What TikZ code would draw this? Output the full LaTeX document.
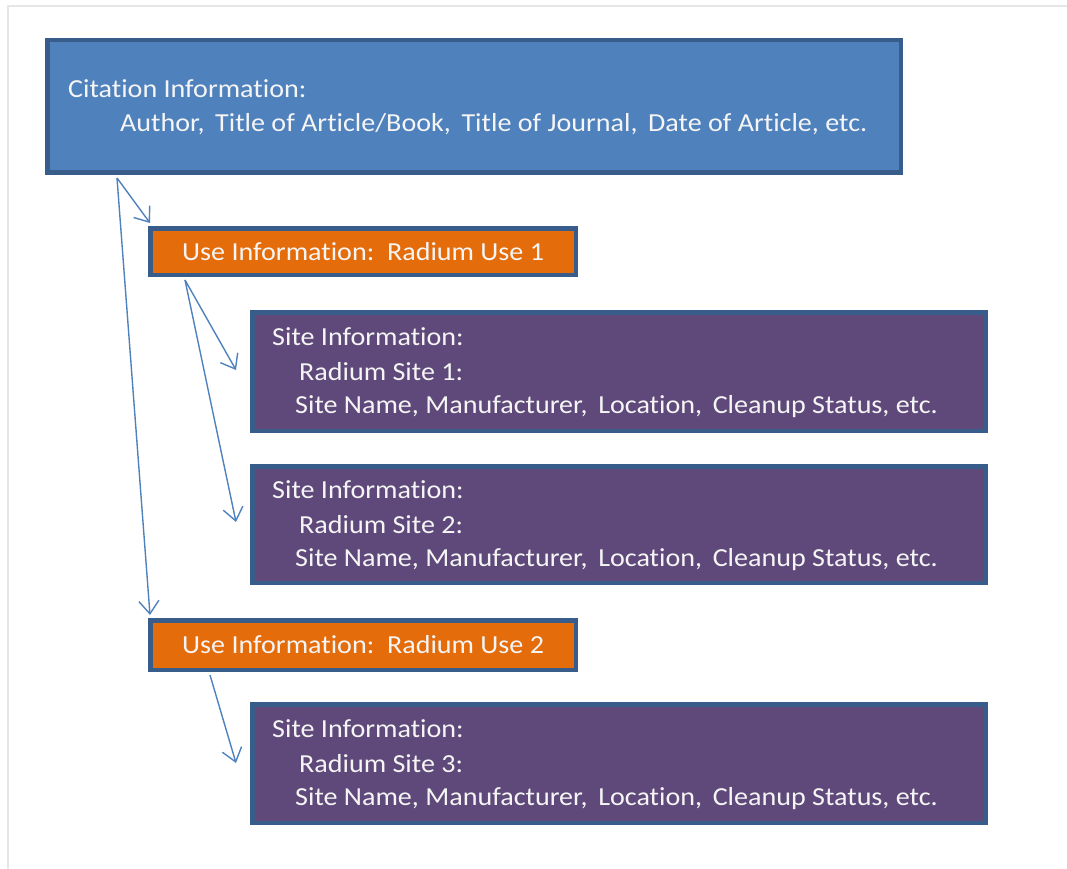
\documentclass[tikz,border=0pt]{standalone}
\usepackage{fontspec}
\setmainfont{Carlito}[Ligatures={NoCommon}, FakeStretch=1.08]
\usetikzlibrary{arrows.meta}
\definecolor{citfill}{HTML}{4F81BD}
\definecolor{boxline}{HTML}{385D8A}
\definecolor{usefill}{HTML}{E46C0A}
\definecolor{sitefill}{HTML}{5F497A}
\definecolor{arrowcol}{HTML}{4F81BD}
\definecolor{framecol}{HTML}{E6E6E6}
\tikzset{
  box/.style={draw=boxline, line width=4.5pt, outer sep=0pt, inner sep=0pt, rectangle},
  citbox/.style={box, fill=citfill},
  usebox/.style={box, fill=usefill},
  sitebox/.style={box, fill=sitefill},
  txt/.style={anchor=west, text=white!96!black, inner sep=0pt, font=\fontsize{26}{30}\selectfont},
  conn/.style={draw=arrowcol, line width=1.4pt, -{Straight Barb[length=13pt,width=20pt,line width=1.4pt]}},
}
\begin{document}
\begin{tikzpicture}[x=1pt,y=-1pt]
\useasboundingbox (0,0) rectangle (1067,869);
% faint frame
\draw[framecol, line width=2pt] (8,869) -- (8,6) -- (1067,6);
% boxes
\node[citbox, minimum width=853.5pt, minimum height=132.5pt] (cit) at (474,106.5) {};
\node[usebox, minimum width=425.5pt, minimum height=46.5pt] (use1) at (363,251.5) {};
\node[sitebox, minimum width=733.5pt, minimum height=118.5pt] (site1) at (619,371.5) {};
\node[sitebox, minimum width=733.5pt, minimum height=116.5pt] (site2) at (619,524.5) {};
\node[usebox, minimum width=425.5pt, minimum height=49.5pt] (use2) at (363,645) {};
\node[sitebox, minimum width=733.5pt, minimum height=118.5pt] (site3) at (619,763.5) {};
% texts
\node[txt] (cittxt1) at (68,89) {Citation Information:};
\node[txt] (cittxt2) at (120,124) {Author,\, Title of Article/Book,\, Title of Journal,\, Date of Article, etc.};
\node[txt] (use1txt) at (182,252) {Use Information:\, Radium Use 1};
\node[txt] (use2txt) at (182,645) {Use Information:\, Radium Use 2};
\node[txt] (s1a) at (272,337) {Site Information:};
\node[txt] (s1b) at (299,372) {Radium Site 1:};
\node[txt] (s1c) at (295,407) {Site Name, Manufacturer,\, Location,\, Cleanup Status, etc.};
\node[txt] (s2a) at (272,490) {Site Information:};
\node[txt] (s2b) at (299,525) {Radium Site 2:};
\node[txt] (s2c) at (295,560) {Site Name, Manufacturer,\, Location,\, Cleanup Status, etc.};
\node[txt] (s3a) at (272,729) {Site Information:};
\node[txt] (s3b) at (299,764) {Radium Site 3:};
\node[txt] (s3c) at (295,799) {Site Name, Manufacturer,\, Location,\, Cleanup Status, etc.};
% connector anchors
\coordinate (citout) at (117,178);
\coordinate (use1in) at (150,223);
\coordinate (use2in) at (150,615);
\coordinate (use1out) at (185,280);
\coordinate (site1in) at (236,370);
\coordinate (site2in) at (236,522);
\coordinate (use2out) at (210,675);
\coordinate (site3in) at (236,763);
\draw[conn] (citout) -- (use1in);
\draw[conn] (citout) -- (use2in);
\draw[conn] (use1out) -- (site1in);
\draw[conn] (use1out) -- (site2in);
\draw[conn] (use2out) -- (site3in);
\end{tikzpicture}
\end{document}
